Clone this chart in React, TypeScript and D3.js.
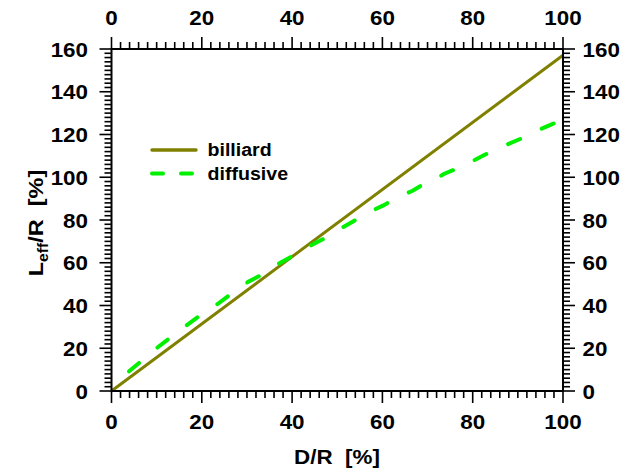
import React from 'react'
import * as d3 from 'd3'

// billiard: straight line L = (pi/2) D
const billiardD = [0, 100]
const billiardL = [0, 157.1]

// diffusive
const diffusiveD = [3.9, 6.7, 10.4, 13.3, 17, 20, 23.7, 26.2, 30.3, 33.5, 36.9, 40.1, 43.6, 46.9, 50.2, 53.4, 57.1, 60.1, 63.7, 66.7, 70.4, 71.6, 73.5, 77.2, 80.1, 83.8, 86.8, 90.5, 93.4, 97.1, 100]
const diffusiveL = [9.2, 14.2, 20.7, 25.4, 31.3, 35.9, 41.0, 44.9, 51.1, 54.6, 59.4, 63.2, 67.5, 71.1, 75.3, 79.2, 83.7, 86.7, 90.9, 93.7, 98.4, 98.7, 101.4, 104.7, 107.7, 111.7, 114.6, 117.9, 121.0, 124.4, 127.1]

const xMajor = [0, 20, 40, 60, 80, 100]
const yMajor = [0, 20, 40, 60, 80, 100, 120, 140, 160]

const legendNames = ['billiard', 'diffusive']

const W = 624
const H = 473
const left = 111.5
const right = 563
const top = 49
const bottom = 391

const font = '"Liberation Sans", Arial, sans-serif'
// the original text is a bit wider than Liberation Sans
const stretch = 1.12

function Label({ x, y, anchor, size, children, rotate }: any) {
  const t = `translate(${x},${y})` + (rotate ? ` rotate(${rotate})` : '') + ` scale(${stretch},1)`
  return (
    <text transform={t} textAnchor={anchor} fontSize={size} style={{ whiteSpace: 'pre' }}>
      {children}
    </text>
  )
}

export default function App() {
  const x = d3.scaleLinear().domain([0, 100]).range([left, right])
  const y = d3.scaleLinear().domain([0, 160]).range([bottom, top])

  const line = d3
    .line<[number, number]>()
    .x((d) => x(d[0]))
    .y((d) => y(d[1]))

  const billiard = line(billiardD.map((d, i) => [d, billiardL[i]]))
  const diffusive = line(diffusiveD.map((d, i) => [d, diffusiveL[i]]))

  // minor ticks every 2 units, skipping the majors
  const xMinor = d3.range(0, 101, 2).filter((v) => v % 20 !== 0)
  const yMinor = d3.range(0, 161, 2).filter((v) => v % 20 !== 0)
  const major = 12
  const minor = 7

  return (
    <svg
      width={W}
      height={H}
      style={{ position: 'absolute', left: 0, top: 0, background: '#fff' }}
      fontFamily={font}
      fontWeight="bold"
    >
      <rect x={0} y={0} width={W} height={H} fill="#fff" />

      {/* data */}
      <path d={billiard} fill="none" stroke="#808000" strokeWidth={3} />
      <path
        d={diffusive}
        fill="none"
        stroke="#00f000"
        strokeWidth={4}
        strokeDasharray="13 24"
        strokeLinecap="round"
      />

      {/* frame */}
      <rect x={left} y={top} width={right - left} height={bottom - top} stroke="#000" strokeWidth={2} fill="none" />

      {/* ticks */}
      <g stroke="#000" strokeWidth={1.6}>
        {xMajor.map((v) => (
          <g key={'xm' + v}>
            <line x1={x(v)} x2={x(v)} y1={bottom} y2={bottom + major} />
            <line x1={x(v)} x2={x(v)} y1={top} y2={top - major} />
          </g>
        ))}
        {xMinor.map((v) => (
          <g key={'xn' + v}>
            <line x1={x(v)} x2={x(v)} y1={bottom} y2={bottom + minor} />
            <line x1={x(v)} x2={x(v)} y1={top} y2={top - minor} />
          </g>
        ))}
        {yMajor.map((v) => (
          <g key={'ym' + v}>
            <line x1={left} x2={left - major} y1={y(v)} y2={y(v)} />
            <line x1={right} x2={right + major} y1={y(v)} y2={y(v)} />
          </g>
        ))}
        {yMinor.map((v) => (
          <g key={'yn' + v}>
            <line x1={left} x2={left - minor} y1={y(v)} y2={y(v)} />
            <line x1={right} x2={right + minor} y1={y(v)} y2={y(v)} />
          </g>
        ))}
      </g>

      {/* tick labels */}
      <g fill="#000">
        {xMajor.map((v) => (
          <g key={'xl' + v}>
            <Label x={x(v)} y={428.5} anchor="middle" size={20}>{v}</Label>
            <Label x={x(v)} y={25} anchor="middle" size={20}>{v}</Label>
          </g>
        ))}
        {yMajor.map((v) => (
          <g key={'yl' + v}>
            <Label x={88} y={y(v) + 7.5} anchor="end" size={20}>{v}</Label>
            <Label x={582.5} y={y(v) + 7.5} anchor="start" size={20}>{v}</Label>
          </g>
        ))}
      </g>

      {/* axis titles */}
      <Label x={337} y={464} anchor="middle" size={20}>D/R  [%]</Label>
      <Label x={43} y={223} anchor="middle" size={21} rotate={-90}>
        L<tspan fontSize={14} dy={5}>eff</tspan>
        <tspan dy={-5}>/R  [%]</tspan>
      </Label>

      {/* legend */}
      <line x1={152} x2={196} y1={150} y2={150} stroke="#808000" strokeWidth={3.5} strokeLinecap="round" />
      <Label x={207.5} y={156} anchor="start" size={17.5}>{legendNames[0]}</Label>
      <line
        x1={152}
        x2={195}
        y1={173.5}
        y2={173.5}
        stroke="#00f000"
        strokeWidth={4}
        strokeDasharray="11 18"
        strokeLinecap="round"
      />
      <Label x={207.5} y={179.5} anchor="start" size={17.5}>{legendNames[1]}</Label>
    </svg>
  )
}
